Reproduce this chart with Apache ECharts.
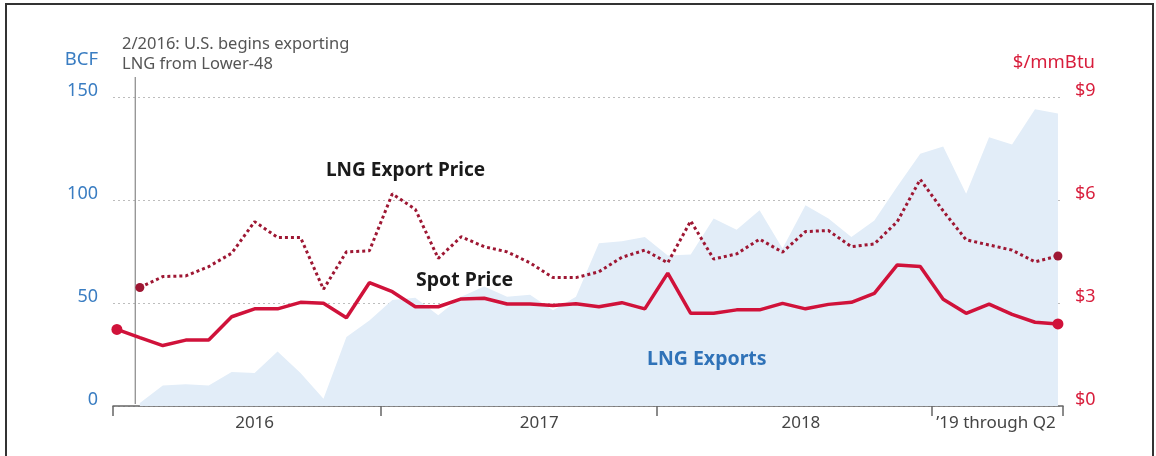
<!DOCTYPE html>
<html>
<head>
<meta charset="utf-8">
<script src="https://cdn.jsdelivr.net/npm/echarts@6/dist/echarts.min.js"></script>
<style>
	html,body{margin:0;padding:0;background:#fff;}
	#main{width:1156px;height:456px;}
</style>
</head>
<body>
<div id="main"></div>
<script type="text/javascript">
	//月份 Jan 2016 - Jun 2019
	var months = [];
	for(var y=2016;y<=2019;y++){
		for(var m=1;m<=12;m++){
			if(y===2019 && m>6)break;
			months.push(y+'-'+(m<10?'0'+m:m));
		}
	}

	//Henry Hub spot price, $/mmBtu
	var spotPrice = [2.23,1.99,1.76,1.92,1.92,2.60,2.83,2.83,3.02,2.99,2.57,3.59,
		3.33,2.89,2.89,3.12,3.14,2.97,2.97,2.93,2.98,2.89,3.01,2.83,
		3.87,2.70,2.70,2.80,2.80,2.99,2.83,2.96,3.02,3.28,4.11,4.06,
		3.11,2.70,2.97,2.67,2.44,2.39];

	//LNG export price, $/mmBtu
	var exportPrice = [null,3.45,3.77,3.79,4.06,4.45,5.37,4.91,4.91,3.40,4.49,4.52,
		6.18,5.73,4.30,4.93,4.64,4.49,4.17,3.74,3.74,3.91,4.33,4.54,
		4.17,5.39,4.28,4.43,4.86,4.48,5.08,5.11,4.64,4.72,5.37,6.60,
		5.68,4.84,4.69,4.54,4.20,4.37];

	//LNG exports, BCF
	var lngExports = [null,1.5,10,10.5,10,16.5,16,26.5,16,3.5,33.5,41.5,
		51.5,52.5,44,53,58,53,54,46.5,53,79,80,82,
		73,73.5,91,85.5,95,76.5,97.5,91,82,90,106.5,122.5,
		126,103,130.5,127,144,142];

	//x轴刻度 (月份序号)
	var yearTicks = [-0.17,11.5,23.5,35.5,41.22];
	var yearLabelPos = [6,18.4,29.8,38.3];
	var yearLabels = ['2016','2017','2018','\u201919 through Q2'];
	var exportStartIdx = 0.8;//2/2016

	var BLUE = '#3a7dc2', RED = '#d81e3c', DARKRED = '#9e1733';
	var FONT = '"Noto Sans", "Open Sans", sans-serif';

	function toPairs(arr){
		var out = [];
		arr.forEach(function(v,i){ if(v !== null) out.push([i,v]); });
		return out;
	}
	function endDots(size,first,last){
		return function(val,params){
			return (params.dataIndex===first || params.dataIndex===last) ? size : 0;
		};
	}

	var spotData = toPairs(spotPrice);
	var exportData = toPairs(exportPrice);
	var areaData = toPairs(lngExports);

	var myChart = echarts.init(document.getElementById('main'));
	var option = {
		animation:false,
		grid:{left:113,right:93,top:97,bottom:50},
		xAxis:{
			type:'value',
			min:yearTicks[0],
			max:yearTicks[yearTicks.length-1],
			splitLine:{show:false},
			axisLine:{lineStyle:{color:'#666',width:1.5}},
			axisTick:{show:true,length:10,inside:false,customValues:yearTicks,lineStyle:{color:'#666',width:1.5}},
			axisLabel:{
				customValues:yearLabelPos,
				margin:9,
				color:'#444',
				fontSize:17,
				fontFamily:FONT,
				formatter:function(v){
					var k = yearLabelPos.indexOf(v);
					return k>=0 ? yearLabels[k] : '';
				}
			}
		},
		yAxis:[{
			type:'value',min:0,max:150,interval:50,
			axisLine:{show:false},axisTick:{show:false},
			axisLabel:{color:BLUE,fontSize:18,fontFamily:FONT,margin:15,verticalAlign:'bottom',lineHeight:13},
			splitLine:{lineStyle:{color:'#bdbdbd',type:[2,3],width:1}}
		},{
			type:'value',min:0,max:9,interval:3,position:'right',
			axisLine:{show:false},axisTick:{show:false},
			axisLabel:{color:RED,fontSize:18,fontFamily:FONT,margin:12,verticalAlign:'bottom',lineHeight:13,
				formatter:function(v){return '$'+v;}},
			splitLine:{show:false}
		}],
		series:[{
			name:'LNG Exports',
			type:'line',
			yAxisIndex:0,
			data:areaData,
			symbol:'none',
			lineStyle:{width:0},
			areaStyle:{color:'#e2edf8',opacity:1},
			z:1
		},{
			name:'LNG Export Price',
			type:'line',
			yAxisIndex:1,
			data:exportData,
			symbol:'circle',
			symbolSize:endDots(9,0,exportData.length-1),
			itemStyle:{color:DARKRED},
			lineStyle:{color:DARKRED,width:3,type:[3,3]},
			z:4
		},{
			name:'Spot Price',
			type:'line',
			yAxisIndex:1,
			data:spotData,
			symbol:'circle',
			symbolSize:endDots(11,0,spotData.length-1),
			itemStyle:{color:'#d0123a'},
			lineStyle:{color:'#d0123a',width:3.5},
			z:5
		}]
	};
	myChart.setOption(option);

	//标注线 2/2016
	var lineX = myChart.convertToPixel({xAxisIndex:0},exportStartIdx);
	var lineBottom = myChart.convertToPixel({yAxisIndex:0},1);
	myChart.setOption({
		graphic:[
			{type:'rect',shape:{x:6,y:4,width:1147,height:470},style:{fill:'none',stroke:'#333',lineWidth:2},silent:true},
			{type:'line',shape:{x1:lineX,y1:77,x2:lineX,y2:lineBottom},style:{stroke:'#888',lineWidth:1.2},z:3},
			{type:'text',left:122,top:34,style:{text:'2/2016: U.S. begins exporting\nLNG from Lower-48',fill:'#555',font:'16.5px '+FONT,lineHeight:20}},
			{type:'text',right:1156-98,top:50,style:{text:'BCF',fill:BLUE,font:'18.5px '+FONT}},
			{type:'text',right:1156-1095,top:53,style:{text:'$/mmBtu',fill:RED,font:'18.5px '+FONT}},
			{type:'text',left:326,top:161,style:{text:'LNG Export Price',fill:'#1a1a1a',font:'bold 19px '+FONT},z:10},
			{type:'text',left:416,top:270,style:{text:'Spot Price',fill:'#1a1a1a',font:'bold 19.5px '+FONT},z:10},
			{type:'text',left:647,top:349,style:{text:'LNG Exports',fill:'#2f72b8',font:'bold 19.5px '+FONT},z:10}
		]
	});
</script>
</body>
</html>
